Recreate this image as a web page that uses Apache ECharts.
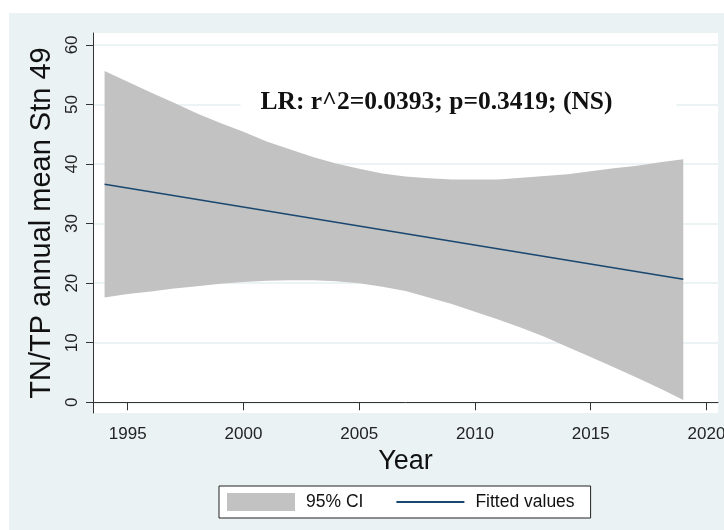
<!DOCTYPE html>
<html>
<head>
<meta charset="utf-8">
<script src="https://cdn.jsdelivr.net/npm/echarts@6/dist/echarts.min.js"></script>
<style>
  html, body { margin: 0; padding: 0; background: #fff; }
  #chart { position: absolute; left: 9px; top: 13px; width: 715px; height: 517px; }
</style>
</head>
<body>
<div id="chart"></div>
<script>
// 95% CI band, read per year off the picture
const years = [1994, 1995, 1996, 1997, 1998, 1999, 2000, 2001, 2002, 2003, 2004, 2005, 2006,
  2007, 2008, 2009, 2010, 2011, 2012, 2013, 2014, 2015, 2016, 2017, 2018, 2019];
const ciUpper = [55.6, 53.8, 52.0, 50.3, 48.5, 46.9, 45.4, 43.8, 42.5, 41.2, 40.1, 39.2, 38.4,
  37.9, 37.6, 37.4, 37.4, 37.4, 37.7, 38.0, 38.3, 38.8, 39.3, 39.7, 40.3, 40.8];
const ciLower = [17.6, 18.2, 18.6, 19.1, 19.5, 19.9, 20.2, 20.4, 20.5, 20.5, 20.3, 20.0, 19.4,
  18.7, 17.6, 16.5, 15.2, 13.9, 12.5, 11.0, 9.3, 7.6, 5.9, 4.1, 2.3, 0.4];

// fitted regression line
const fitYears = [1994, 2019];
const fitValues = [36.6, 20.65];

const xTicks = [1995, 2000, 2005, 2010, 2015, 2020];
const yTicks = [0, 10, 20, 30, 40, 50, 60];

const annotation = "LR: r^2=0.0393; p=0.3419; (NS)";

const chart = echarts.init(document.getElementById("chart"));

// band as one polygon: upper edge left->right, then lower edge back
function renderBand(params, api) {
  const pts = [];
  years.forEach((y, i) => pts.push(api.coord([y, ciUpper[i]])));
  for (let i = years.length - 1; i >= 0; i--) pts.push(api.coord([years[i], ciLower[i]]));
  return { type: "polygon", shape: { points: pts }, style: { fill: "#c2c2c2" } };
}

chart.setOption({
  backgroundColor: "#eaf2f3",
  animation: false,
  textStyle: { fontFamily: "Liberation Sans, Arial, sans-serif" },
  grid: {
    left: 84, top: 20, right: 6, bottom: 117,
    show: true, backgroundColor: "#fff", borderWidth: 0,
    outerBoundsMode: "none",
  },
  xAxis: {
    type: "value",
    min: 1993.5,
    max: 2020.5,
    name: "Year",
    nameLocation: "middle",
    nameGap: 35,
    nameTextStyle: { fontSize: 27, color: "#111" },
    axisLine: { lineStyle: { color: "#333", width: 1 } },
    axisTick: { show: true, length: 8, customValues: xTicks, lineStyle: { color: "#333" } },
    axisLabel: { customValues: xTicks, fontSize: 17, color: "#222", margin: 13, formatter: (v) => String(v) },
    splitLine: { show: false },
  },
  yAxis: {
    type: "value",
    min: -1.8,
    max: 62,
    name: "TN/TP annual mean Stn 49",
    nameLocation: "middle",
    nameRotate: 90,
    nameGap: 28,
    nameTextStyle: { fontSize: 29, color: "#111" },
    axisLine: { show: true, lineStyle: { color: "#333", width: 1 } },
    axisTick: { show: true, length: 7, customValues: yTicks, lineStyle: { color: "#333" } },
    axisLabel: { customValues: yTicks, rotate: 90, fontSize: 17, color: "#222", margin: 12 },
    splitLine: { show: true, lineStyle: { color: "#e6eff2", width: 1.5 } },
  },
  legend: {
    left: 210,
    top: 473,
    orient: "horizontal",
    backgroundColor: "#fff",
    borderColor: "#222",
    borderWidth: 1,
    borderRadius: 0,
    padding: [7, 16, 7, 8],
    itemGap: 33,
    itemWidth: 68,
    itemHeight: 18,
    textStyle: { fontSize: 17.5, color: "#111", padding: [0, 0, 0, 6] },
    data: [
      { name: "95% CI", icon: "rect", itemStyle: { color: "#c2c2c2", borderWidth: 0 } },
      { name: "Fitted values", icon: "path://M0,0H100V3H0Z", itemStyle: { color: "#1a476f", borderWidth: 0 } },
    ],
  },
  graphic: [{
    type: "text",
    x: 449.5,
    y: 89,
    z: 10,
    style: {
      text: annotation,
      align: "center",
      verticalAlign: "middle",
      font: "bold 25.5px 'Liberation Serif', 'Times New Roman', serif",
      fill: "#111",
      backgroundColor: "#fff",
      padding: [6, 64, 6, 20],
    },
  }],
  series: [
    {
      name: "95% CI",
      type: "custom",
      silent: true,
      z: 1,
      color: "#c2c2c2",
      renderItem: renderBand,
      data: [[years[0], ciLower[0]]],
    },
    {
      name: "Fitted values",
      type: "line",
      symbol: "none",
      silent: true,
      z: 3,
      color: "#1a476f",
      lineStyle: { color: "#1a476f", width: 1.6 },
      data: fitYears.map((y, i) => [y, fitValues[i]]),
    },
  ],
});
</script>
</body>
</html>
